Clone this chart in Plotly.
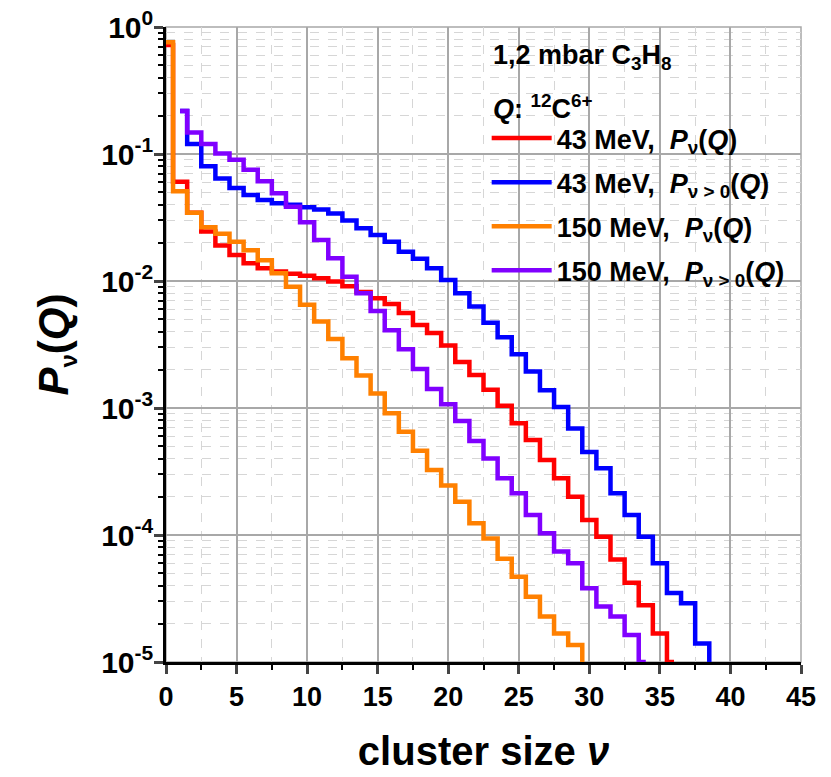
import plotly.graph_objects as go

# cluster size nu
nu_red = list(range(0, 37))
p_red = [0.72, 0.0605, 0.0345, 0.0245, 0.019, 0.016, 0.0138, 0.0126, 0.0119, 0.0114,
         0.0110, 0.0105, 0.0099, 0.0091, 0.0082, 0.0073, 0.0066, 0.0056, 0.0045, 0.0039,
         0.0031, 0.0023, 0.00182, 0.00139, 0.00104, 0.00076, 0.00056, 0.00039, 0.00028, 0.00020,
         0.000131, 9.7e-5, 6.4e-5, 4.2e-5, 2.8e-5, 1.68e-5, 1.0e-5]

nu_blue = list(range(1, 40))
p_blue = [0.218, 0.12, 0.08, 0.064, 0.054, 0.0475, 0.0434, 0.041, 0.0398, 0.038,
          0.0365, 0.034, 0.030, 0.026, 0.023, 0.0204, 0.017, 0.015, 0.0126, 0.0102,
          0.008, 0.0063, 0.0047, 0.0036, 0.00265, 0.00194, 0.00138, 0.00102, 0.00069, 0.00045,
          0.000335, 0.000213, 0.000144, 9.7e-5, 6.0e-5, 3.5e-5, 2.9e-5, 1.4e-5, 5e-6]

nu_orange = list(range(0, 31))
p_orange = [0.76, 0.051, 0.0345, 0.0265, 0.0235, 0.0204, 0.0175, 0.0146, 0.0115, 0.009,
            0.0065, 0.0048, 0.0035, 0.00246, 0.0018, 0.0013, 0.00091, 0.00065, 0.00046, 0.000325,
            0.000245, 0.000183, 0.000124, 9.4e-5, 6.5e-5, 4.7e-5, 3.27e-5, 2.28e-5, 1.68e-5, 1.36e-5,
            5e-6]

nu_purple = list(range(1, 35))
p_purple = [0.218, 0.148, 0.12, 0.101, 0.09, 0.075, 0.061, 0.049, 0.0385, 0.029,
            0.021, 0.0151, 0.0108, 0.0080, 0.0058, 0.0041, 0.0029, 0.00203, 0.00141, 0.00107,
            0.00079, 0.00055, 0.00040, 0.00028, 0.000213, 0.000144, 0.000103, 7.4e-5, 6.0e-5, 3.8e-5,
            2.73e-5, 2.28e-5, 1.63e-5, 1.0e-5]

x_ticks = [0, 5, 10, 15, 20, 25, 30, 35, 40, 45]
y_tickvals = [1, 0.1, 0.01, 0.001, 0.0001, 0.00001]
y_ticktext = ["10<sup>0</sup>", "10<sup>-1</sup>", "10<sup>-2</sup>", "10<sup>-3</sup>",
              "10<sup>-4</sup>", "10<sup>-5</sup>"]

header_lines = ["1,2 mbar C<sub>3</sub>H<sub>8</sub>",
                "<i>Q</i>: <sup>12</sup>C<sup>6+</sup>"]

series = [
    (nu_red, p_red, "#FF0000", "43 MeV,  <i>P</i><sub>ν</sub>(<i>Q</i>)"),
    (nu_blue, p_blue, "#0000FF", "43 MeV,  <i>P</i><sub>ν > 0</sub>(<i>Q</i>)"),
    (nu_orange, p_orange, "#FF8000", "150 MeV,  <i>P</i><sub>ν</sub>(<i>Q</i>)"),
    (nu_purple, p_purple, "#8000FF", "150 MeV,  <i>P</i><sub>ν > 0</sub>(<i>Q</i>)"),
]

fig = go.Figure()
for i, (x, y, c, name) in enumerate(series):
    fig.add_trace(go.Scatter(x=x, y=y, mode="lines", name=name,
                             line=dict(color=c, width=4.5, shape="hvh"),
                             legendgroup=f"g{i}"))

bold_font = "Liberation Sans, Arial"

fig.update_layout(
    width=831, height=777,
    margin=dict(l=166, r=30, t=27, b=115),
    plot_bgcolor="white", paper_bgcolor="white",
    showlegend=True,
    legend=dict(
        x=0.505, y=0.863, xanchor="left", yanchor="top",
        bgcolor="rgba(255,255,255,0)", borderwidth=0,
        font=dict(family=bold_font, size=27, color="black", weight="bold"),
        traceorder="grouped", tracegroupgap=6, itemwidth=60,
    ),
    xaxis=dict(
        range=[0, 45], tickvals=x_ticks, ticks="outside", ticklen=9, tickwidth=2.5,
        showline=True, linecolor="black", linewidth=2.5, automargin=False,
        showgrid=True, gridcolor="#A8A8A8", gridwidth=1.5,
        tickfont=dict(family=bold_font, size=27, color="black", weight="bold"),
        minor=dict(dtick=2.5, ticks="outside", ticklen=5, tickwidth=2, tickcolor="black",
                   showgrid=True, gridcolor="#D6D6D6", gridwidth=1, griddash="dash"),
        title=dict(text="cluster size <i>ν</i>",
                   font=dict(family=bold_font, size=40, color="black", weight="bold"),
                   standoff=26),
        zeroline=False,
    ),
    yaxis=dict(
        type="log", range=[-5, 0], tickvals=y_tickvals, ticktext=y_ticktext,
        ticks="outside", ticklen=9, tickwidth=2.5,
        showline=True, linecolor="black", linewidth=2.5, automargin=False,
        showgrid=True, gridcolor="#A8A8A8", gridwidth=1.5,
        tickfont=dict(family=bold_font, size=30, color="black", weight="bold"),
        ticklabelstandoff=-5,
        minor=dict(dtick="D1", ticks="outside", ticklen=5, tickwidth=1.5, tickcolor="black",
                   showgrid=True, gridcolor="#D6D6D6", gridwidth=1, griddash="dash"),
        title=dict(text="<i>P</i><sub><span style='font-size:24px'>ν</span></sub>(<i>Q</i>)",
                   font=dict(family=bold_font, size=42, color="black", weight="bold"),
                   standoff=20),
        zeroline=False,
    ),
    shapes=[
        dict(type="rect", xref="paper", yref="paper", x0=0, x1=1, y0=0, y1=1,
             line=dict(color="#A8A8A8", width=1.5), layer="below"),
        dict(type="rect", xref="paper", yref="paper", x0=0.5, x1=0.99, y0=0.583, y1=0.998,
             fillcolor="white", line=dict(width=0), layer="between"),
    ],
    annotations=[
        dict(text=header_lines[0], xref="paper", yref="paper", x=0.512, y=0.953,
             xanchor="left", yanchor="middle", showarrow=False, align="left",
             font=dict(family=bold_font, size=27, color="black", weight="bold")),
        dict(text=header_lines[1], xref="paper", yref="paper", x=0.512, y=0.874,
             xanchor="left", yanchor="middle", showarrow=False, align="left",
             font=dict(family=bold_font, size=27, color="black", weight="bold")),
    ],
)

fig.write_html("out.html")
